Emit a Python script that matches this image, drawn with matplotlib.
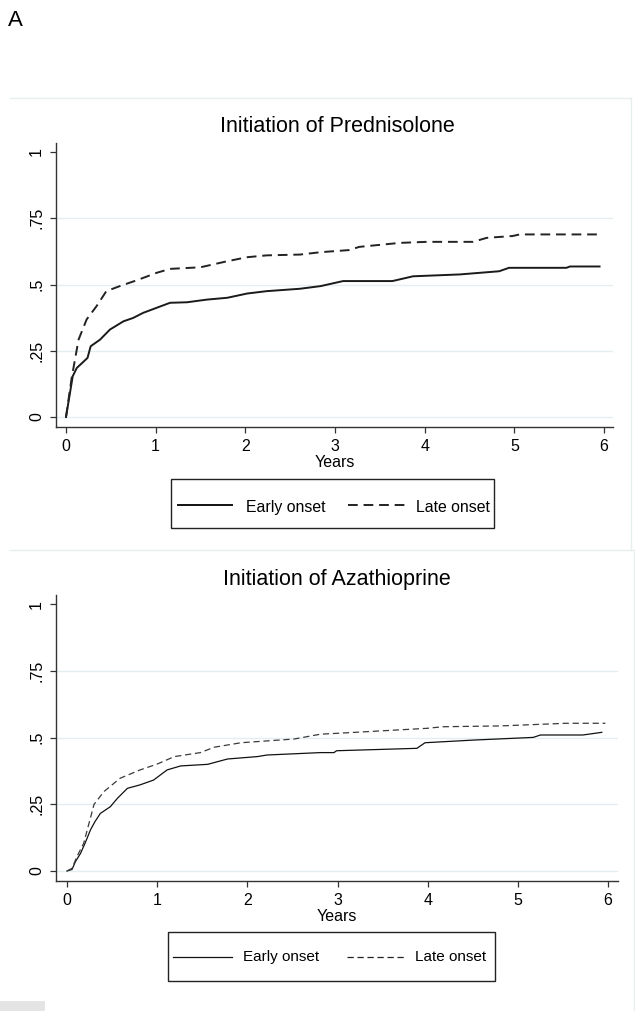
import matplotlib
matplotlib.use("Agg")
import matplotlib.pyplot as plt
from matplotlib.lines import Line2D
from matplotlib.patches import Rectangle

plt.rcParams['font.family'] = ['Liberation Sans', 'DejaVu Sans']

# ---- Data ----
pred_early_t = [0, 0.075, 0.12, 0.24, 0.275, 0.38, 0.49, 0.64, 0.75, 0.86, 1.01, 1.16, 1.35,
                1.57, 1.80, 2.02, 2.24, 2.61, 2.84, 3.09, 3.64, 3.87, 4.39, 4.83, 4.94, 5.58,
                5.62, 5.95]
pred_early_y = [0, 0.154, 0.185, 0.223, 0.267, 0.292, 0.33, 0.361, 0.374, 0.393, 0.412, 0.431,
                0.433, 0.443, 0.45, 0.466, 0.475, 0.484, 0.494, 0.513, 0.513, 0.531, 0.538,
                0.55, 0.563, 0.563, 0.568, 0.568]
pred_late_t = [0, 0.063, 0.14, 0.23, 0.34, 0.45, 0.60, 0.79, 1.01, 1.16, 1.50, 1.80, 2.02, 2.24,
               2.61, 2.84, 3.16, 3.27, 3.72, 4.02, 4.54, 4.69, 4.98, 5.06, 5.92]
pred_late_y = [0, 0.147, 0.292, 0.368, 0.418, 0.475, 0.494, 0.516, 0.544, 0.559, 0.565, 0.588,
               0.603, 0.61, 0.613, 0.622, 0.63, 0.642, 0.657, 0.661, 0.661, 0.676, 0.683,
               0.689, 0.689]

aza_early_t = [0, 0.056, 0.093, 0.15, 0.2, 0.26, 0.31, 0.37, 0.48, 0.56, 0.67, 0.81, 0.96, 1.11,
               1.26, 1.56, 1.78, 2.11, 2.22, 2.81, 2.96, 2.99, 3.88, 3.97, 4.51, 5.17, 5.25,
               5.72, 5.93]
aza_early_y = [0, 0.006, 0.035, 0.066, 0.104, 0.154, 0.185, 0.216, 0.241, 0.273, 0.31, 0.323,
               0.341, 0.379, 0.394, 0.4, 0.42, 0.429, 0.435, 0.444, 0.444, 0.451, 0.46, 0.481,
               0.491, 0.501, 0.51, 0.51, 0.52]
aza_late_t = [0, 0.056, 0.11, 0.185, 0.30, 0.41, 0.59, 0.81, 1.0, 1.19, 1.48, 1.63, 1.93, 2.52,
              2.81, 3.14, 3.99, 4.17, 4.80, 5.54, 5.97]
aza_late_y = [0, 0.01, 0.054, 0.104, 0.25, 0.298, 0.348, 0.379, 0.401, 0.429, 0.444, 0.464,
              0.481, 0.495, 0.513, 0.519, 0.535, 0.541, 0.544, 0.554, 0.554]

titles = ["Initiation of Prednisolone", "Initiation of Azathioprine"]
series_labels = ["Early onset", "Late onset"]
x_ticks = [0, 1, 2, 3, 4, 5, 6]
y_ticks = [0, 0.25, 0.5, 0.75, 1]
y_ticklabels = ["0", ".25", ".5", ".75", "1"]
x_label = "Years"
panel_letter = "A"

W, H = 635, 1011
fig = plt.figure(figsize=(W / 100, H / 100), dpi=100)


def px_axes(l, t, r, b):
    return fig.add_axes([l / W, 1 - b / H, (r - l) / W, (b - t) / H])


# faint panel frames (Stata graph regions)
frame_col = "#e6eeee"
fig.add_artist(Line2D([10 / W, 631 / W], [1 - 98 / H] * 2, color=frame_col, lw=1))
fig.add_artist(Line2D([631 / W] * 2, [1 - 98 / H, 1 - 550 / H], color=frame_col, lw=1))
fig.add_artist(Line2D([10 / W, 634 / W], [1 - 550 / H] * 2, color=frame_col, lw=1))
fig.add_artist(Line2D([634 / W] * 2, [1 - 550 / H, 0], color=frame_col, lw=1))
fig.add_artist(Rectangle((0, 0), 45 / W, 10 / H, transform=fig.transFigure,
                         color="#e4e4e4", lw=0))

fig.text(8 / W, 1 - 21 / H, panel_letter, fontsize=16, va="center", ha="left")

panels = [
    dict(box=(56, 143, 613, 427), xlim=(-0.1115, 6.1), ylim=(-0.0377, 1.034),
         early=(pred_early_t, pred_early_y), late=(pred_late_t, pred_late_y),
         lw=1.4, late_col="#222222", early_col="#1a1a1a",
         title_y=127, legend_box=(171, 479, 494, 528), leg_line_y=505, leg_base=512,
         solid=(178, 232), stext=246, dash=(348, 405), dtext=416, leg_fs=11.4),
    dict(box=(56, 595, 618, 881), xlim=(-0.122, 6.11), ylim=(-0.0375, 1.035),
         early=(aza_early_t, aza_early_y), late=(aza_late_t, aza_late_y),
         lw=0.9, late_col="#3a3a3a", early_col="#111111",
         title_y=579, legend_box=(168, 932, 495, 981), leg_line_y=956.5, leg_base=961,
         solid=(173, 232), stext=243, dash=(347, 405), dtext=415, leg_fs=11.0),
]

for i, p in enumerate(panels):
    ax = px_axes(*p["box"])
    ax.set_xlim(*p["xlim"])
    ax.set_ylim(*p["ylim"])
    for s in ["top", "right"]:
        ax.spines[s].set_visible(False)
    for s in ["left", "bottom"]:
        ax.spines[s].set_color("#333333")
        ax.spines[s].set_linewidth(1.0)
    ax.set_xticks(x_ticks)
    ax.set_yticks(y_ticks)
    ax.set_yticklabels(y_ticklabels, rotation=90, va="center")
    ax.tick_params(axis="both", direction="out", length=4.5, width=0.9, color="#333333",
                   labelsize=11.5, pad=4)
    ax.grid(False)
    for yv in y_ticks[:-1]:
        ax.axhline(yv, color="#e4eef0", lw=1.0, zorder=0)
    ax.plot(p["early"][0], p["early"][1], color=p["early_col"], lw=p["lw"], ls="-")
    ax.plot(p["late"][0], p["late"][1], color=p["late_col"], lw=p["lw"], ls=(0, (5, 3)))
    ax.set_xlabel(x_label, fontsize=11.5, labelpad=0.8)
    fig.text(337 / W, 1 - p["title_y"] / H, titles[i], fontsize=15.5, ha="center", va="center")

    # legend box
    l, t, r, b = p["legend_box"]
    fig.add_artist(Rectangle((l / W, 1 - b / H), (r - l) / W, (b - t) / H,
                             transform=fig.transFigure, fill=False,
                             edgecolor="#222222", lw=1.0))
    ly = 1 - p["leg_line_y"] / H
    by = 1 - p["leg_base"] / H
    fig.add_artist(Line2D([p["solid"][0] / W, p["solid"][1] / W], [ly, ly],
                          color="#111111", lw=p["lw"]))
    fig.add_artist(Line2D([p["dash"][0] / W, p["dash"][1] / W], [ly, ly], color="#222222",
                          lw=p["lw"], ls=(0, (5, 3))))
    fig.text(p["stext"] / W, by, series_labels[0], fontsize=p["leg_fs"], va="baseline", ha="left")
    fig.text(p["dtext"] / W, by, series_labels[1], fontsize=p["leg_fs"], va="baseline", ha="left")

fig.savefig("out.png", dpi=100)
